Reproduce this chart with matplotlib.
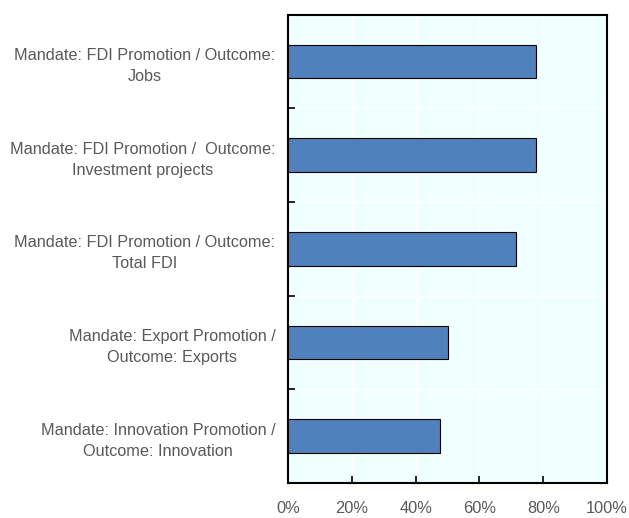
import matplotlib
matplotlib.use("Agg")
import matplotlib.pyplot as plt
import numpy as np

categories = [
    "Mandate: FDI Promotion / Outcome:\nJobs",
    "Mandate: FDI Promotion /  Outcome:\nInvestment projects",
    "Mandate: FDI Promotion / Outcome:\nTotal FDI",
    "Mandate: Export Promotion /\nOutcome: Exports",
    "Mandate: Innovation Promotion /\nOutcome: Innovation",
]
values = [77.6, 77.6, 71.6, 50.0, 47.8]
xticks = [0, 20, 40, 60, 80, 100]
xticklabels = ["0%", "20%", "40%", "60%", "80%", "100%"]

plt.rcParams['font.family'] = ['Liberation Sans', 'DejaVu Sans']
text_color = "#595959"

fig = plt.figure(figsize=(6.29, 5.18), dpi=100)
ax = fig.add_axes([288/629, 1-483/518, (607-288)/629, (483-14.7)/518])
ax.set_facecolor("#F0FFFF")

y = np.arange(len(categories))
ax.barh(y, values, height=0.36, color="#4F81BD", edgecolor="black", linewidth=0.8, zorder=3)
ax.set_ylim(len(categories)-0.5, -0.5)
ax.set_xlim(0, 100)

# gridlines
for xv in xticks[1:-1]:
    ax.axvline(xv, color="white", linewidth=1.0, zorder=1)
for b in np.arange(0.5, len(categories)-0.5, 1):
    ax.axhline(b, color="white", linewidth=1.0, zorder=1)

ax.set_xticks(xticks)
ax.set_xticklabels(xticklabels, color=text_color, fontsize=11.8)
ax.tick_params(axis='x', direction='in', length=5, width=1.2, pad=13, colors='black', labelcolor=text_color)

ax.set_yticks(np.arange(0.5, len(categories)-0.5, 1))
ax.set_yticklabels([])
ax.tick_params(axis='y', direction='in', length=5, width=1.2, colors='black')
ax.set_yticks(y, minor=True)
ax.set_yticklabels(categories, minor=True, fontsize=11.7, color=text_color, linespacing=1.5, multialignment='center')
ax.tick_params(axis='y', which='minor', length=0, pad=9)

for s in ax.spines.values():
    s.set_linewidth(1.5)
    s.set_color("black")

fig.savefig("out.png", dpi=100, facecolor="white")
